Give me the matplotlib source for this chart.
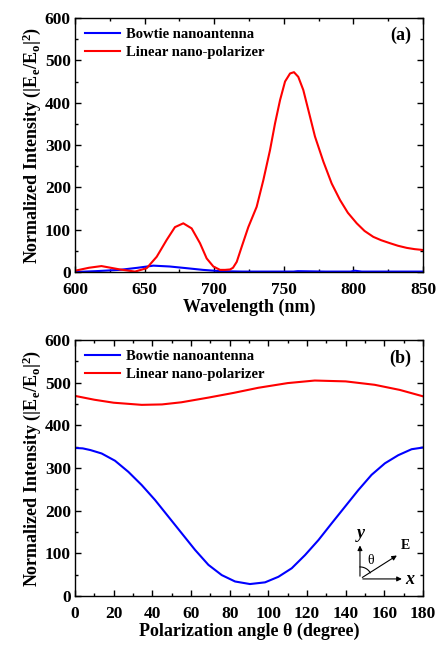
import numpy as np
import matplotlib
matplotlib.use('Agg')
import matplotlib.pyplot as plt
from matplotlib.ticker import MultipleLocator

# Ajustes de fuente (tipo Times, negrita)
plt.rcParams['font.family'] = 'Liberation Serif'
plt.rcParams['font.weight'] = 'bold'
plt.rcParams['axes.labelweight'] = 'bold'
plt.rcParams['mathtext.fontset'] = 'custom'
plt.rcParams['mathtext.rm'] = 'Liberation Serif:bold'
plt.rcParams['mathtext.it'] = 'Liberation Serif:italic:bold'
plt.rcParams['mathtext.bf'] = 'Liberation Serif:bold'

# Datos panel (a): espectro
wl_red = [600, 610, 619, 632.3, 643.1, 651.5, 658.7, 665.9, 671.8, 677.8, 683.8, 689.8, 694.6,
          699.4, 704.2, 707.8, 711.4, 713.5, 716.2, 719.8, 724.5, 730.5, 735.3, 740.1, 743.7,
          747.3, 750.9, 754.5, 757.3, 760.4, 764, 767.6, 772.4, 778.4, 784.4, 790.4, 796,
          802.4, 808, 814.3, 820, 826.3, 832, 838.3, 844, 850]
int_red = [3, 10, 14, 6, 1, 9, 36, 76, 106, 115, 103, 68, 32,
           13, 5, 5, 6, 10, 24, 60, 106, 154, 217, 288, 351,
           406, 450, 469, 472, 461, 430, 383, 320, 261, 209, 170, 140,
           115, 97, 83, 75, 68, 62, 57, 54, 52]
wl_blue = [600, 615, 632, 645, 656.3, 668, 680.2, 692, 704, 720, 740, 757, 760, 780, 798, 801, 806, 820, 850]
int_blue = [0, 2, 5, 10, 15, 13, 9, 5, 2, 1, 1, 1, 2, 1, 1, 3, 1, 1, 1]

# Datos panel (b): ángulo de polarización
ang = [0, 4, 8, 13.8, 20.7, 27.6, 34.5, 41.4, 48.3, 55.2, 62.1, 69, 75.9, 82.8, 90.5, 98.3,
       105.2, 112.1, 119, 125.9, 132.7, 139.6, 146.5, 153.4, 160.3, 167.2, 174.1, 180]
blue_b = [347, 346, 342, 334, 317, 291, 260, 225, 186, 147, 108, 73, 49, 34, 28, 32,
          45, 65, 96, 131, 170, 209, 248, 284, 311, 330, 344, 348]
ang_r = [0, 10, 20, 34.5, 45, 55, 69, 82, 94.8, 110, 124, 140, 155, 168, 180]
red_b = [469, 460, 453, 448, 449, 454, 465, 476, 488, 499, 505, 503, 495, 483, 468]

fig = plt.figure(figsize=(4.36, 6.46), dpi=100)
ax1 = fig.add_axes([75/436, 1 - 272/646, 348/436, 254/646])
ax2 = fig.add_axes([75/436, 1 - 596/646, 348/436, 256/646])

ylab = r'Normalized Intensity (|E$_\mathrm{e}$/E$_\mathrm{o}$|$^\mathrm{2}$)'

ax1.plot(wl_blue, int_blue, color='#0000ff', lw=1.5, label='Bowtie nanoantenna')
ax1.plot(wl_red, int_red, color='#ff0000', lw=1.5, label='Linear nano-polarizer')
ax1.set_xlim(600, 850)
ax1.set_ylim(0, 600)
ax1.xaxis.set_major_locator(MultipleLocator(50))
ax1.xaxis.set_minor_locator(MultipleLocator(25))
ax1.yaxis.set_major_locator(MultipleLocator(100))
ax1.yaxis.set_minor_locator(MultipleLocator(50))
ax1.set_xlabel('Wavelength (nm)', fontsize=13, labelpad=1)
ax1.set_ylabel(ylab, fontsize=13, labelpad=1)
ax1.text(0.965, 0.93, '(a)', transform=ax1.transAxes, ha='right', va='center', fontsize=13)

ax2.plot(ang, blue_b, color='#0000ff', lw=1.5, label='Bowtie nanoantenna')
ax2.plot(ang_r, red_b, color='#ff0000', lw=1.5, label='Linear nano-polarizer')
ax2.set_xlim(0, 180)
ax2.set_ylim(0, 600)
ax2.xaxis.set_major_locator(MultipleLocator(20))
ax2.xaxis.set_minor_locator(MultipleLocator(10))
ax2.yaxis.set_major_locator(MultipleLocator(100))
ax2.yaxis.set_minor_locator(MultipleLocator(50))
ax2.set_xlabel('Polarization angle θ (degree)', fontsize=13, labelpad=1)
ax2.set_ylabel(ylab, fontsize=13, labelpad=1)
ax2.text(0.965, 0.93, '(b)', transform=ax2.transAxes, ha='right', va='center', fontsize=13)

for ax in (ax1, ax2):
    ax.tick_params(which='both', direction='in', top=True, right=True, labelsize=12.5)
    ax.tick_params(which='major', length=4, width=1)
    ax.tick_params(which='minor', length=2.5, width=1)
    ax.tick_params(axis='x', which='major', pad=7)
    ax.tick_params(axis='y', which='major', pad=3)
    for s in ax.spines.values():
        s.set_linewidth(1)
    ax.legend(loc='upper left', frameon=False, fontsize=10.5, handlelength=2.4,
              handletextpad=0.4, labelspacing=0.3, borderaxespad=0.3)

# Esquema de ejes con el campo E (coordenadas de datos del panel b)
ox, oy = 147.4, 40
arr = dict(arrowstyle='-|>', color='black', lw=0.8, mutation_scale=7)
ax2.annotate('', xy=(ox, 125), xytext=(ox, oy), arrowprops=arr)
ax2.annotate('', xy=(170.5, oy), xytext=(ox, oy), arrowprops=arr)
ax2.annotate('', xy=(167.7, 98.4), xytext=(ox, oy), arrowprops=arr)
t = np.linspace(np.deg2rad(31), np.deg2rad(90), 30)
ax2.plot(ox + 12 * np.cos(t) * 180 / 348, oy + 12 * np.sin(t) * 600 / 256, color='black', lw=0.8)
ax2.text(ox + 0.3, 126, 'y', style='italic', fontsize=13, ha='center', va='bottom')
ax2.text(171, oy - 2, 'x', style='italic', fontsize=13, ha='left', va='center')
ax2.text(168.5, 104, 'E', fontsize=10, ha='left', va='bottom')
ax2.text(153, 84, 'θ', fontsize=10, fontweight='normal', ha='center', va='center')

fig.savefig('out.png', dpi=100)
